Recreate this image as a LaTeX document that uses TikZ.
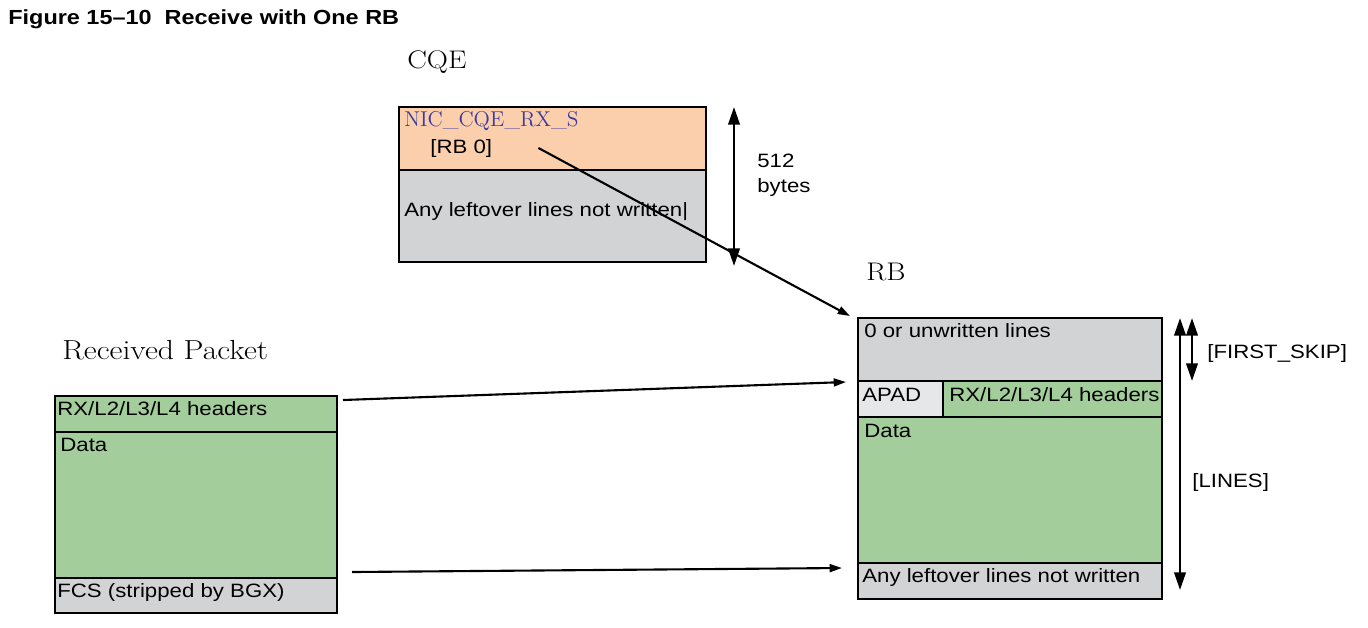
\documentclass[tikz,border=0pt]{standalone}
\usepackage{fontspec}
\setsansfont{Liberation Sans}[FakeStretch=1.15]
\newfontfamily\lmfont{Latin Modern Roman}[FakeStretch=1.15]
\newfontfamily\lmplain{Latin Modern Roman}
\usetikzlibrary{arrows.meta,positioning,calc}

\definecolor{cqeorange}{HTML}{FCCFAC}
\definecolor{fieldgray}{HTML}{D2D3D5}
\definecolor{padgray}{HTML}{E6E7E8}
\definecolor{datagreen}{HTML}{A3CE9B}
\definecolor{namblue}{HTML}{3B3B9F}

\tikzset{
  field/.style={draw, line width=0.8pt, anchor=north west, inner sep=0pt, outer sep=0pt},
  txt/.style={anchor=west, inner sep=0pt, font=\sffamily\fontsize{11}{13}\selectfont},
  heading/.style={anchor=west, inner sep=0pt, font=\lmfont\fontsize{14.5}{16}\selectfont},
  link/.style={line width=1.2pt, -{Triangle[length=7pt,width=4.5pt]}},
  span/.style={line width=1.4pt, {Triangle[length=10pt,width=6.5pt]}-{Triangle[length=10pt,width=6.5pt]}},
}

\begin{document}
\begin{tikzpicture}[x=0.02cm,y=-0.02cm]
\useasboundingbox (0,0) rectangle (1368,627);

% title
\node[anchor=west, inner sep=0pt, font=\sffamily\bfseries\fontsize{11.6}{13}\selectfont] (title) at (8,19) {Figure 15--10\ \ Receive with One RB};

% CQE
\node[heading] (cqelbl) at (407,62) {CQE};
\node[field, fill=cqeorange, minimum width=307*0.02cm, minimum height=63*0.02cm] (cqehdr) at (399,107) {};
\node[field, fill=fieldgray, minimum width=307*0.02cm, minimum height=92*0.02cm] (cqerest) at (cqehdr.south west) {};
\node[heading, font=\lmplain\fontsize{12.2}{14}\selectfont, text=namblue] (cqename) at ($(cqehdr.north west)+(5,14)$) {NIC\_CQE\_RX\_S};
\node[txt] (rb0) at ($(cqehdr.north west)+(31,41)$) {[RB 0]};
\node[txt] (cqeleft) at ($(cqerest.north west)+(5,42)$) {Any leftover lines not written|};
\draw[span] ($(cqehdr.north east)+(28,0)$) -- ($(cqerest.south east)+(28,4)$);
\node[txt] (cqesize) at ($(cqehdr.north east)+(51,54)$) {512};
\node[txt] (cqeunit) at ($(cqehdr.north east)+(51,80)$) {bytes};

% RB
\node[heading] (rblbl) at (866,272) {RB};
\node[field, fill=fieldgray, minimum width=304*0.02cm, minimum height=63*0.02cm] (rbskip) at (858,318) {};
\node[field, fill=padgray, minimum width=85*0.02cm, minimum height=36*0.02cm] (apad) at (rbskip.south west) {};
\node[field, fill=datagreen, minimum width=219*0.02cm, minimum height=36*0.02cm] (rbhdr) at (apad.north east) {};
\node[field, fill=datagreen, minimum width=304*0.02cm, minimum height=146*0.02cm] (rbdata) at (apad.south west) {};
\node[field, fill=fieldgray, minimum width=304*0.02cm, minimum height=36*0.02cm] (rbleft) at (rbdata.south west) {};
\node[txt] (rbskiptxt) at ($(rbskip.north west)+(6,13)$) {0 or unwritten lines};
\node[txt] (apadtxt) at ($(apad.north west)+(4,14)$) {APAD};
\node[txt] (rbhdrtxt) at ($(rbhdr.north west)+(6,14)$) {RX/L2/L3/L4 headers};
\node[txt] (rbdatatxt) at ($(rbdata.north west)+(6,14)$) {Data};
\node[txt] (rblefttxt) at ($(rbleft.north west)+(4,14)$) {Any leftover lines not written};
\draw[span] ($(rbskip.north east)+(18,0)$) -- ($(rbleft.south east)+(18,-9)$);
\draw[span] ($(rbskip.north east)+(30,0)$) -- ($(rbskip.south east)+(30,0)$);
\node[txt] (skiptxt) at ($(rbskip.north east)+(45,35)$) {[FIRST\_SKIP]};
\node[txt] (linestxt) at ($(rbskip.north east)+(30,164)$) {[LINES]};

% received packet
\node[heading, font=\lmfont\fontsize{15.7}{17}\selectfont] (pktlbl) at (62,350) {Received Packet};
\node[field, fill=datagreen, minimum width=282*0.02cm, minimum height=36*0.02cm] (pkthdr) at (55,396) {};
\node[field, fill=datagreen, minimum width=282*0.02cm, minimum height=146*0.02cm] (pktdata) at (pkthdr.south west) {};
\node[field, fill=fieldgray, minimum width=282*0.02cm, minimum height=35*0.02cm] (pktfcs) at (pktdata.south west) {};
\node[txt] (pkthdrtxt) at ($(pkthdr.north west)+(2,13)$) {RX/L2/L3/L4 headers};
\node[txt] (pktdatatxt) at ($(pktdata.north west)+(5,13)$) {Data};
\node[txt] (pktfcstxt) at ($(pktfcs.north west)+(2,14)$) {FCS (stripped by BGX)};

% connectors
\draw[link] ($(rb0.east)+(46,0)$) -- ($(rbskip.north west)+(-8,-2)$);
\draw[link] ($(pkthdr.north east)+(6,4)$) -- ($(apad.north west)+(-12,1)$);
\draw[link] ($(pktfcs.north east)+(15,-6)$) -- ($(rbleft.north west)+(-16,5)$);
\end{tikzpicture}
\end{document}
